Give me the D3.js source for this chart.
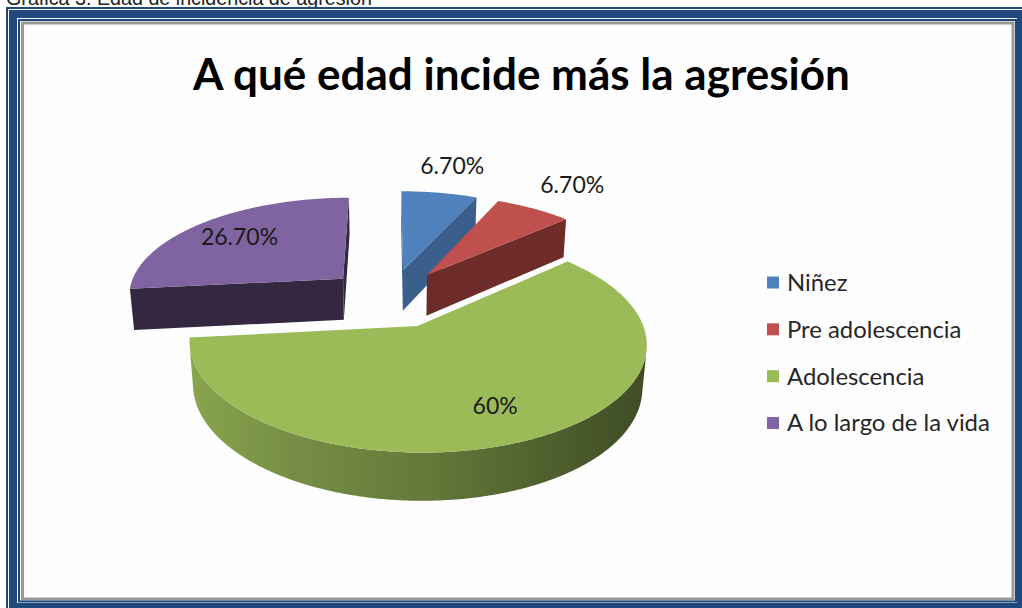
<!DOCTYPE html>
<html>
<head>
<meta charset="utf-8">
<script src="https://cdn.jsdelivr.net/npm/d3@7.9.0/dist/d3.min.js"></script>
<style>
  body { margin: 0; background: #fff; }
  svg { display: block; }
</style>
</head>
<body>
<svg id="chart" width="1022" height="608"></svg>
<script>
const caption = 'Gráfica 3. Edad de incidencia de agresión';
const title = 'A qué edad incide más la agresión';
const categories = ['Niñez', 'Pre adolescencia', 'Adolescencia', 'A lo largo de la vida'];
const values = [6.7, 6.7, 60, 26.7];
const valueLabels = ['6.70%', '6.70%', '60%', '26.70%'];

const W = 1022, H = 608;
const svg = d3.select('#chart');
const defs = svg.append('defs');

const topColor = d3.scaleOrdinal().domain(categories).range(['#4f81bd', '#c0504d', '#9bbb59', '#8064a2']);
const faceColor = d3.scaleOrdinal().domain(categories).range(['#3a5f8c', '#6d2b29', '#5a7034', '#342840']);
// outer wall gets darker to the right (light from the left)
const wallDarken = d3.scaleLinear().domain([-1, 0, 1]).range([0.3, 1.2, 2.6]);

// fit a text element to a given width
function fit(sel, target) {
  const w = sel.node().getComputedTextLength();
  const fs = parseFloat(sel.attr('font-size'));
  sel.attr('font-size', fs * target / w);
  return fs * target / w;
}

svg.append('rect').attr('width', W).attr('height', H).attr('fill', '#fff');

// caption, cut off by the top edge like in the source scan
const cap = svg.append('text')
  .attr('x', 6).attr('y', 5)
  .attr('font-family', 'Liberation Sans, Arial, sans-serif')
  .attr('font-size', 18)
  .attr('fill', '#222')
  .text(caption);
fit(cap, 366);

// frame
svg.append('rect').attr('x', 22.5).attr('y', 23).attr('width', 990.5).attr('height', 576)
  .attr('fill', '#fefefe').attr('stroke', '#9a9a9a').attr('stroke-width', 3);
svg.append('rect').attr('x', 7).attr('y', 8).attr('width', 1022).attr('height', 612)
  .attr('fill', 'none').attr('stroke', '#1f497d').attr('stroke-width', 2);
svg.append('rect').attr('x', 13).attr('y', 14).attr('width', 1008).attr('height', 593)
  .attr('fill', 'none').attr('stroke', '#1f497d').attr('stroke-width', 8);
svg.append('rect').attr('x', 19).attr('y', 20).attr('width', 997).attr('height', 581.5)
  .attr('fill', 'none').attr('stroke', '#1f497d').attr('stroke-width', 2);

// title
const tt = svg.append('text')
  .attr('x', 521.5).attr('y', 90)
  .attr('text-anchor', 'middle')
  .attr('font-family', 'Lato, sans-serif')
  .attr('font-weight', 700)
  .attr('font-size', 40)
  .attr('fill', '#000')
  .text(title);
fit(tt, 657);

// 3d pie, perspective projection
const cx = 390, cy = 298;
const f = 1300, D = 6;
const tilt = 27 * Math.PI / 180;
const sn = Math.sin(tilt), cs = Math.cos(tilt);
const h = 0.22, explode = 0.3;
const cam = [0, D * sn, -D * cs];

function project(p) {
  const depth = D + p[2] * cs - p[1] * sn;
  return [cx + p[0] * f / depth, cy - (p[2] * sn + p[1] * cs) * f / depth];
}
function visible(n, p) {
  return n[0] * (cam[0] - p[0]) + n[1] * (cam[1] - p[1]) + n[2] * (cam[2] - p[2]) > 0;
}

const line = d3.line().curve(d3.curveLinearClosed);
const arcs = d3.pie().sort(null).value(d => d)(values);

arcs.forEach(a => {
  a.mid = (a.startAngle + a.endAngle) / 2;
  a.ox = explode * Math.sin(a.mid);
  a.oz = explode * Math.cos(a.mid);
});

const pieG = svg.append('g');
const order = arcs.slice().sort((p, q) => q.oz - p.oz);

order.forEach(a => {
  const cat = categories[a.index];
  const pt = (th, r, Y) => [a.ox + r * Math.sin(th), Y, a.oz + r * Math.cos(th)];
  const g = pieG.append('g');

  // radial cut faces
  [[a.startAngle, -1], [a.endAngle, 1]].forEach(([th, side]) => {
    const n = side < 0 ? [-Math.cos(th), 0, Math.sin(th)] : [Math.cos(th), 0, -Math.sin(th)];
    if (!visible(n, pt(th, 0.5, -h / 2))) return;
    const quad = [pt(th, 0, 0), pt(th, 1, 0), pt(th, 1, -h), pt(th, 0, -h)].map(project);
    g.append('path').attr('d', line(quad)).attr('fill', faceColor(cat));
  });

  // outer wall: visible angle range, one path with a gradient
  const steps = Math.ceil((a.endAngle - a.startAngle) / (Math.PI / 360));
  const dth = (a.endAngle - a.startAngle) / steps;
  const vis = [];
  for (let i = 0; i <= steps; i++) {
    const th = a.startAngle + i * dth;
    const n = [Math.sin(th), 0, Math.cos(th)];
    if (visible(n, pt(th, 1, -h / 2))) vis.push(th);
  }
  if (vis.length > 1) {
    const topRim = vis.map(th => project(pt(th, 1, 0)));
    const botRim = vis.map(th => project(pt(th, 1, -h))).reverse();
    const xs = topRim.map(p => p[0]);
    const x0 = d3.min(xs), x1 = d3.max(xs);
    const gid = 'wall' + a.index;
    const grad = defs.append('linearGradient').attr('id', gid)
      .attr('gradientUnits', 'userSpaceOnUse')
      .attr('x1', x0).attr('x2', x1).attr('y1', 0).attr('y2', 0);
    const stops = vis.map((th, i) => ({ x: topRim[i][0], th }))
      .sort((p, q) => p.x - q.x)
      .filter((s, i, arr) => i % 6 === 0 || i === arr.length - 1);
    stops.forEach(s => {
      grad.append('stop')
        .attr('offset', x1 > x0 ? (s.x - x0) / (x1 - x0) : 0)
        .attr('stop-color', d3.color(topColor(cat)).darker(wallDarken(Math.sin(s.th))).formatHex());
    });
    g.append('path').attr('d', line(topRim.concat(botRim))).attr('fill', `url(#${gid})`);
  }

  // top
  const topPts = [project(pt(0, 0, 0))];
  for (let i = 0; i <= steps; i++) topPts.push(project(pt(a.startAngle + i * dth, 1, 0)));
  g.append('path').attr('d', line(topPts)).attr('fill', topColor(cat));
});

// data labels
const labelG = svg.append('g')
  .attr('font-family', 'Lato, sans-serif')
  .attr('fill', '#1a1a1a')
  .attr('text-anchor', 'middle');
const probe = labelG.append('text').attr('font-size', 20).text(valueLabels[0]);
const labelSize = fit(probe, 64);
probe.remove();

arcs.forEach(a => {
  const r = values[a.index] < 10 ? 1.42 : 0.73;
  const p = project([a.ox + r * Math.sin(a.mid), 0, a.oz + r * Math.cos(a.mid)]);
  labelG.append('text')
    .attr('x', p[0]).attr('y', p[1]).attr('dy', '0.35em')
    .attr('font-size', labelSize)
    .text(valueLabels[a.index]);
});

// legend
const legY = d3.scalePoint().domain(categories).range([282.5, 423]);
const legG = svg.append('g').attr('font-family', 'Lato, sans-serif').attr('fill', '#262626');
const lp = legG.append('text').attr('font-size', 20).text(categories[3]);
const legSize = fit(lp, 203);
lp.remove();

categories.forEach(c => {
  legG.append('rect')
    .attr('x', 767).attr('y', legY(c) - 6)
    .attr('width', 12).attr('height', 12)
    .attr('fill', topColor(c));
  legG.append('text')
    .attr('x', 787).attr('y', legY(c)).attr('dy', '0.35em')
    .attr('font-size', legSize)
    .text(c);
});
</script>
</body>
</html>
